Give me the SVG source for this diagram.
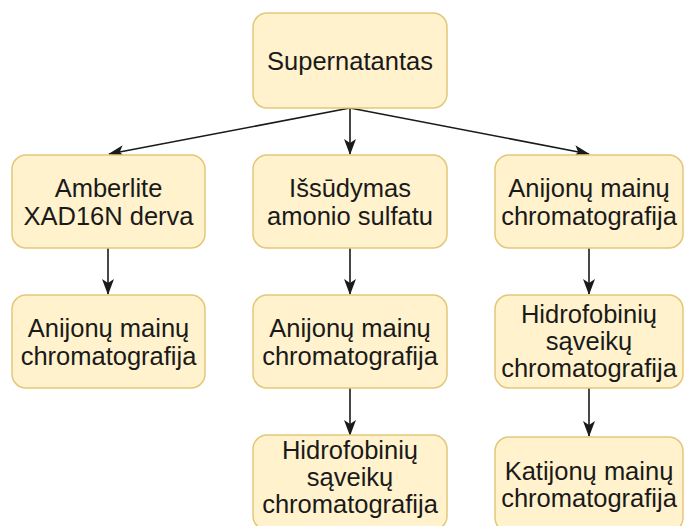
<svg xmlns="http://www.w3.org/2000/svg" width="685" height="526" viewBox="0 0 685 526">
<defs>
<style>
.box{fill:#fff2cc;stroke:#e3c77a;stroke-width:1.5}
.t{font-family:"Liberation Sans",Arial,sans-serif;font-size:25.5px;fill:#1a1a1a;text-anchor:middle}
.c{stroke:#1a1a1a;stroke-width:1.6;fill:none}
</style>
<marker id="ah2" viewBox="0 0 16 12" refX="15" refY="6" markerWidth="16" markerHeight="12" markerUnits="userSpaceOnUse" orient="auto">
<path d="M0,0 L16,6 L0,12 L4,6 Z" fill="#1a1a1a"/>
</marker>
</defs>
<g id="connectors">
<line class="c" x1="350" y1="108" x2="109" y2="154" marker-end="url(#ah2)"/>
<line class="c" x1="350" y1="108" x2="350" y2="154" marker-end="url(#ah2)"/>
<line class="c" x1="350" y1="108" x2="589" y2="154" marker-end="url(#ah2)"/>
<line class="c" x1="108" y1="248" x2="108" y2="294" marker-end="url(#ah2)"/>
<line class="c" x1="350" y1="248" x2="350" y2="294" marker-end="url(#ah2)"/>
<line class="c" x1="350" y1="388" x2="350" y2="435" marker-end="url(#ah2)"/>
<line class="c" x1="589" y1="248" x2="589" y2="294" marker-end="url(#ah2)"/>
<line class="c" x1="589" y1="388" x2="589" y2="436" marker-end="url(#ah2)"/>
</g>
<g id="n0"><rect class="box" x="253" y="13" width="194" height="95" rx="14"/><text class="t" x="350" y="70">Supernatantas</text></g>
<g id="n1"><rect class="box" x="12" y="155" width="193" height="93" rx="14"/><text class="t" x="108.5" y="197">Amberlite</text><text class="t" x="108.5" y="225">XAD16N derva</text></g>
<g id="n2"><rect class="box" x="12" y="295" width="193" height="93" rx="14"/><text class="t" x="108.5" y="337">Anijonų mainų</text><text class="t" x="108.5" y="365">chromatografija</text></g>
<g id="n3"><rect class="box" x="253" y="155" width="194" height="93" rx="14"/><text class="t" x="350" y="197">Išsūdymas</text><text class="t" x="350" y="225">amonio sulfatu</text></g>
<g id="n4"><rect class="box" x="253" y="295" width="194" height="93" rx="14"/><text class="t" x="350" y="337">Anijonų mainų</text><text class="t" x="350" y="365">chromatografija</text></g>
<g id="n5"><rect class="box" x="253" y="435" width="194" height="95" rx="14"/><text class="t" x="350" y="459">Hidrofobinių</text><text class="t" x="350" y="486">sąveikų</text><text class="t" x="350" y="513">chromatografija</text></g>
<g id="n6"><rect class="box" x="495" y="155" width="188" height="93" rx="14"/><text class="t" x="589" y="197">Anijonų mainų</text><text class="t" x="589" y="225">chromatografija</text></g>
<g id="n7"><rect class="box" x="495" y="295" width="188" height="93" rx="14"/><text class="t" x="589" y="323">Hidrofobinių</text><text class="t" x="589" y="350">sąveikų</text><text class="t" x="589" y="377">chromatografija</text></g>
<g id="n8"><rect class="box" x="495" y="437" width="188" height="95" rx="14"/><text class="t" x="589" y="480">Katijonų mainų</text><text class="t" x="589" y="507">chromatografija</text></g>
</svg>
